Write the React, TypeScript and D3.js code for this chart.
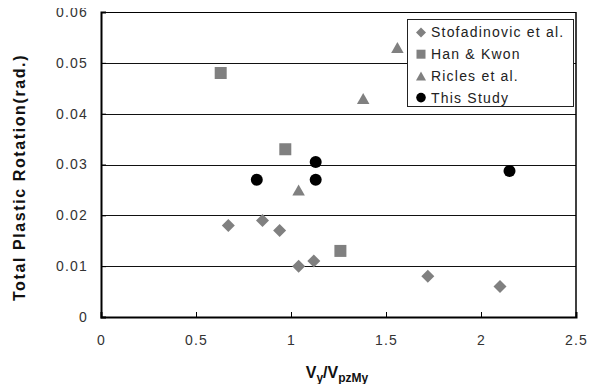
import React, { useEffect, useRef } from 'react';
import * as d3 from 'd3';

// Data
const stofX = [0.67, 0.85, 0.94, 1.04, 1.12, 1.72, 2.1];
const stofY = [0.018, 0.019, 0.017, 0.01, 0.011, 0.008, 0.006];
const hanX = [0.63, 0.97, 1.26];
const hanY = [0.048, 0.033, 0.013];
const riclesX = [1.04, 1.38, 1.56];
const riclesY = [0.025, 0.043, 0.053];
const studyX = [0.82, 1.13, 1.13, 2.15];
const studyY = [0.027, 0.0305, 0.027, 0.0287];

const xTicks = [0, 0.5, 1, 1.5, 2, 2.5];
const yTicks = [0, 0.01, 0.02, 0.03, 0.04, 0.05, 0.06];
const legendLabels = ['Stofadinovic et al.', 'Han & Kwon', 'Ricles et al.', 'This Study'];

// marker shapes centred on 0,0
const diamond = (r: number) => `M0,${-r}L${r},0L0,${r}L${-r},0Z`;
const triangle = (w: number, h: number) => `M0,${-h / 2}L${w / 2},${h / 2}L${-w / 2},${h / 2}Z`;

const App = () => {
  const ref = useRef<SVGSVGElement>(null);

  useEffect(() => {
    const svg = d3.select(ref.current);
    svg.selectAll('*').remove();

    const margin = { top: 12, right: 25, bottom: 75, left: 101 };
    const width = 601, height = 392;
    const font = '"Liberation Sans", Arial, sans-serif';

    const x = d3.scaleLinear().domain([0, 2.5]).range([margin.left, width - margin.right]);
    const y = d3.scaleLinear().domain([0, 0.06]).range([height - margin.bottom, margin.top]);

    // grid lines
    svg.append('g')
      .selectAll('line')
      .data(yTicks.slice(1, -1))
      .join('line')
      .attr('x1', x(0)).attr('x2', x(2.5))
      .attr('y1', d => Math.round(y(d)) + 0.5).attr('y2', d => Math.round(y(d)) + 0.5)
      .attr('stroke', '#111').attr('stroke-width', 1);

    // frame: top & right
    svg.append('line')
      .attr('x1', x(0)).attr('x2', x(2.5))
      .attr('y1', y(0.06) + 0.5).attr('y2', y(0.06) + 0.5)
      .attr('stroke', '#000');
    svg.append('line')
      .attr('x1', x(2.5)).attr('x2', x(2.5))
      .attr('y1', y(0.06)).attr('y2', y(0))
      .attr('stroke', '#000').attr('stroke-width', 1.5);

    // axes
    const xAxis = svg.append('g')
      .attr('transform', `translate(0,${y(0)})`)
      .call(d3.axisBottom(x).tickValues(xTicks).tickSize(-5).tickPadding(18).tickFormat(d => d3.format('')(d as number)));
    const yAxis = svg.append('g')
      .attr('transform', `translate(${x(0)},0)`)
      .call(d3.axisLeft(y).tickValues(yTicks).tickSize(-5).tickPadding(13).tickFormat(d => (d === 0 ? '0' : d3.format('.2f')(d as number))));

    [xAxis, yAxis].forEach(a => {
      a.select('.domain').attr('stroke', '#000').attr('stroke-width', 2);
      a.selectAll('.tick line').attr('stroke', '#000');
      a.selectAll('.tick text')
        .attr('font-family', font).attr('font-size', 14).attr('fill', '#333')
        .attr('letter-spacing', 1.2);
    });

    const gray = '#808080';
    const plot = svg.append('g');

    // diamonds
    plot.selectAll('path.stof')
      .data(d3.zip(stofX, stofY))
      .join('path')
      .attr('class', 'stof')
      .attr('d', diamond(6.5))
      .attr('transform', d => `translate(${x(d[0])},${y(d[1])})`)
      .attr('fill', gray);

    // squares
    plot.selectAll('rect.han')
      .data(d3.zip(hanX, hanY))
      .join('rect')
      .attr('class', 'han')
      .attr('x', d => x(d[0]) - 6).attr('y', d => y(d[1]) - 6)
      .attr('width', 12).attr('height', 12)
      .attr('fill', gray);

    // triangles
    plot.selectAll('path.ric')
      .data(d3.zip(riclesX, riclesY))
      .join('path')
      .attr('class', 'ric')
      .attr('d', triangle(12.5, 11))
      .attr('transform', d => `translate(${x(d[0])},${y(d[1])})`)
      .attr('fill', gray);

    // circles
    plot.selectAll('circle.study')
      .data(d3.zip(studyX, studyY))
      .join('circle')
      .attr('class', 'study')
      .attr('cx', d => x(d[0])).attr('cy', d => y(d[1]))
      .attr('r', 6)
      .attr('fill', '#000');

    // legend
    const lg = svg.append('g');
    lg.append('rect')
      .attr('x', 407.5).attr('y', 19.5).attr('width', 166).attr('height', 87)
      .attr('fill', '#fff').attr('stroke', '#222').attr('stroke-width', 1);

    const items = lg.selectAll('g.item')
      .data(legendLabels)
      .join('g')
      .attr('class', 'item')
      .attr('transform', (_, i) => `translate(421,${32.5 + i * 21.7})`);

    items.each(function (_, i) {
      const g = d3.select(this);
      if (i === 0) {
        g.append('path').attr('d', diamond(5)).attr('fill', gray);
      } else if (i === 1) {
        g.append('rect').attr('x', -4.5).attr('y', -4.5).attr('width', 9).attr('height', 9).attr('fill', gray);
      } else if (i === 2) {
        g.append('path').attr('d', triangle(10, 9)).attr('fill', gray);
      } else {
        g.append('circle').attr('r', 4.8).attr('fill', '#000');
      }
    });

    items.append('text')
      .attr('x', 10).attr('dy', '0.35em')
      .attr('font-family', font).attr('font-size', 14).attr('fill', '#222')
      .attr('letter-spacing', 1.2)
      .text(d => d);

    // axis titles
    svg.append('text')
      .attr('transform', `translate(25,${(y(0) + y(0.06)) / 2 + 13}) rotate(-90)`)
      .attr('text-anchor', 'middle')
      .attr('font-family', font).attr('font-size', 16).attr('font-weight', 'bold')
      .attr('letter-spacing', 1.6)
      .attr('fill', '#111')
      .text('Total Plastic Rotation(rad.)');

    const xt = svg.append('text')
      .attr('x', 337).attr('y', 378)
      .attr('text-anchor', 'middle')
      .attr('font-family', font).attr('font-size', 16).attr('font-weight', 'bold')
      .attr('fill', '#111');
    xt.append('tspan').text('V');
    xt.append('tspan').attr('font-size', 12).attr('dy', 4).text('y');
    xt.append('tspan').attr('dy', -4).text('/V');
    xt.append('tspan').attr('font-size', 12).attr('dy', 4).text('pzMy');
  }, []);

  return <svg ref={ref} width={601} height={392} style={{ display: 'block', margin: '-8px' }} />;
};

export default App;
